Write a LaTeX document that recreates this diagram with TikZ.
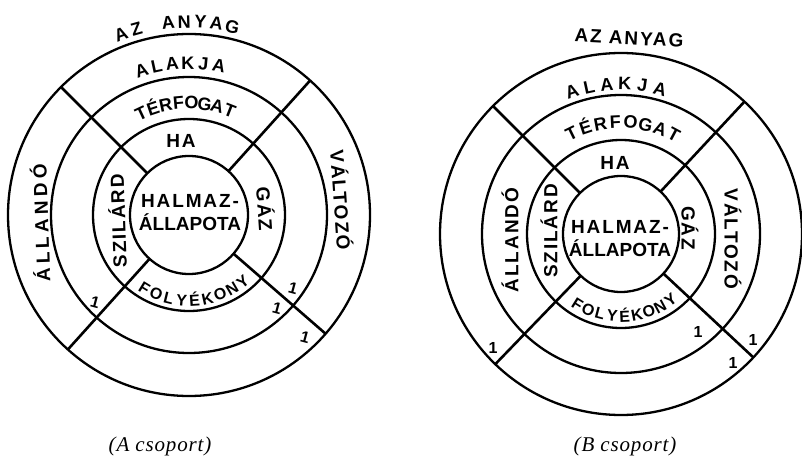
\documentclass[tikz,border=0pt]{standalone}
\usepackage{fontspec}
\newfontfamily\hand{Liberation Sans}[LetterSpace=10]
\newfontfamily\handwide{Liberation Sans}[LetterSpace=22]
\newfontfamily\handplain{Liberation Sans}
\newfontfamily\capfont{Liberation Serif}[LetterSpace=4]

\begin{document}
\begin{tikzpicture}[x=1pt, y=1pt,
    ring/.style={line width=2.3pt},
    spoke/.style={line width=2.6pt},
    lbl/.style={font=\hand\bfseries\fontsize{19}{23}\selectfont, inner sep=0pt, align=center},
    letter/.style={font=\handplain\bfseries\fontsize{18}{18}\selectfont, inner sep=0pt, anchor=base},
    lowletter/.style={letter, font=\handplain\bfseries\fontsize{16}{16}\selectfont},
    one/.style={font=\handplain\bfseries\fontsize{16}{16}\selectfont, inner sep=0pt},
    captxt/.style={font=\capfont\itshape\fontsize{21}{21}\selectfont, inner sep=0pt}
]
    \useasboundingbox (0,0) rectangle (802,461);
    \coordinate (A) at (189,246);
    \coordinate (B) at (621,227);

    % A csoport
    \foreach \r in {59,96,138,181}
        \draw[ring] (A) circle[radius=\r];
    \foreach \a in {48,135,228,319}
        \draw[spoke] ([shift={(\a:59)}]A) -- ([shift={(\a:181)}]A);

    % letters along the rings
    \foreach \i/\ch in {1/A,2/Z,4/A,5/N,6/Y,7/A,8/G}
        \node[letter, rotate={3.8+(4.5-\i)*4.8}] (anyagA\i) at ([shift={({93.8+(4.5-\i)*4.8}:187)}]A) {\ch};
    \foreach \i/\ch in {1/A,2/L,3/A,4/K,5/J,6/A}
        \node[letter, rotate={3.4+(3.5-\i)*5.9}] (alakA\i) at ([shift={({93.4+(3.5-\i)*5.9}:146)}]A) {\ch};
    \foreach \i/\ch in {1/T,2/É,3/R,4/F,5/O,6/G,7/A,8/T}
        \node[letter, rotate={2+(4.5-\i)*6.65}] (terfA\i) at ([shift={({92+(4.5-\i)*6.65}:106)}]A) {\ch};
    \foreach \i/\ch in {1/F,2/O,3/L,4/Y,5/É,6/K,7/O,8/N,9/Y}
        \node[lowletter, rotate={3.8+(\i-5)*8.8}] (folyA\i) at ([shift={({273.8+(\i-5)*8.8}:91)}]A) {\ch};

    \node[lbl] (haA) at (181,320) {HA};
    \node[lbl] (halmazA) at (190,248) {HALMAZ-\\\handplain ÁLLAPOTA};
    \node[lbl, rotate=92] (szilardA) at (117,240) {SZILÁRD};
    \node[lbl, rotate=-86] (gazA) at (266,252) {GÁZ};
    \node[lbl, font=\handwide\bfseries\fontsize{19}{23}\selectfont, rotate=92] (allandoA) at (40,238) {ÁLLANDÓ};
    \node[lbl, rotate=-86] (valtozoA) at (342,261) {VÁLTOZÓ};

    \node[one, rotate=-15] (oneA1) at (95,159) {1};
    \node[one, rotate=-15] (oneA2) at (293,173) {1};
    \node[one, rotate=-15] (oneA3) at (277,153) {1};
    \node[one, rotate=-15] (oneA4) at (305,124) {1};

    \node[captxt] (capA) at (160,15) {(A csoport)};

    % B csoport
    \foreach \r in {58,94,139,181}
        \draw[ring] (B) circle[radius=\r];
    \foreach \a in {47,135,226,317}
        \draw[spoke] ([shift={(\a:58)}]B) -- ([shift={(\a:181)}]B);

    \node[lbl, rotate=-3] (anyagB) at (629,423) {AZ ANYAG};
    \foreach \i/\ch in {1/A,2/L,3/A,4/K,5/J,6/A}
        \node[letter, rotate={2+(3.5-\i)*6.8}] (alakB\i) at ([shift={({92+(3.5-\i)*6.8}:144)}]B) {\ch};
    \foreach \i/\ch in {1/T,2/É,3/R,4/F,5/O,6/G,7/A,8/T}
        \node[letter, rotate={-1+(4.5-\i)*7.75}] (terfB\i) at ([shift={({89+(4.5-\i)*7.75}:106)}]B) {\ch};
    \foreach \i/\ch in {1/F,2/O,3/L,4/Y,5/É,6/K,7/O,8/N,9/Y}
        \node[lowletter, rotate={2.5+(\i-5)*8.6}] (folyB\i) at ([shift={({272.5+(\i-5)*8.6}:88)}]B) {\ch};

    \node[lbl] (haB) at (615,298) {HA};
    \node[lbl] (halmazB) at (620,222) {HALMAZ-\\\handplain ÁLLAPOTA};
    \node[lbl, rotate=90] (szilardB) at (549,230) {SZILÁRD};
    \node[lbl, rotate=-90] (gazB) at (690,233) {GÁZ};
    \node[lbl, rotate=90] (allandoB) at (510,221) {ÁLLANDÓ};
    \node[lbl, rotate=-90] (valtozoB) at (733,222) {VÁLTOZÓ};

    \node[one] (oneB1) at (493,113) {1};
    \node[one] (oneB2) at (698,129) {1};
    \node[one] (oneB3) at (753,121) {1};
    \node[one] (oneB4) at (733,98) {1};

    \node[captxt] (capB) at (625,15) {(B csoport)};
\end{tikzpicture}
\end{document}
